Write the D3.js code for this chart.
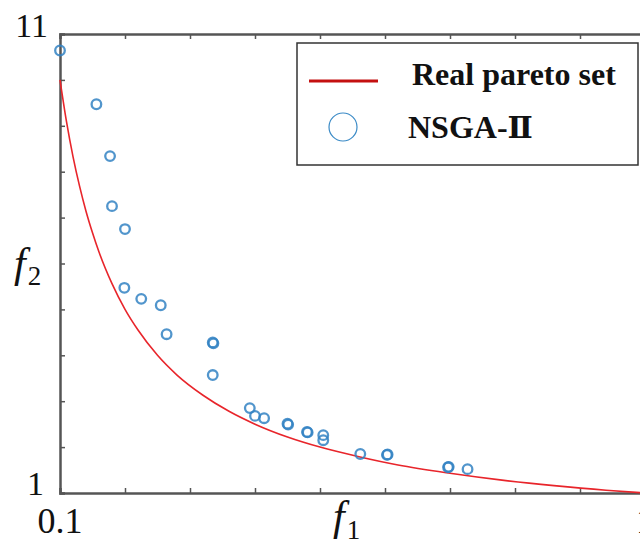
<!DOCTYPE html>
<html>
<head>
<meta charset="utf-8">
<script src="https://cdn.jsdelivr.net/npm/d3@7"></script>
<style>
  body { margin: 0; background: #fff; }
  svg { display: block; }
  text { font-family: "Liberation Serif", "Times New Roman", serif; fill: #111; }
</style>
</head>
<body>
<div id="chart"></div>
<script>
// NSGA-II solutions (f1, f2)
var nsgaF1 = [0.100, 0.156, 0.177, 0.180, 0.200, 0.199, 0.225, 0.255, 0.264, 0.335, 0.336, 0.335,
              0.392, 0.400, 0.414, 0.450, 0.451, 0.480, 0.481, 0.505, 0.505, 0.562, 0.603, 0.604,
              0.697, 0.698, 0.727]
var nsgaF2 = [10.64, 9.47, 8.34, 7.25, 6.75, 5.47, 5.23, 5.09, 4.46, 4.28, 4.26, 3.57,
              2.85, 2.68, 2.63, 2.51, 2.49, 2.33, 2.32, 2.26, 2.15, 1.85, 1.83, 1.84,
              1.56, 1.57, 1.52]
// real pareto front f2 = 1/f1, sampled along f1
var realF1 = [0.10, 0.11, 0.12, 0.13, 0.14, 0.15, 0.16, 0.18, 0.20, 0.22, 0.25, 0.28, 0.32,
              0.36, 0.40, 0.45, 0.50, 0.56, 0.62, 0.70, 0.78, 0.86, 0.94, 1.00]
var realF2 = [10.00, 9.09, 8.33, 7.69, 7.14, 6.67, 6.25, 5.56, 5.00, 4.55, 4.00, 3.57, 3.13,
              2.78, 2.50, 2.22, 2.00, 1.79, 1.61, 1.43, 1.28, 1.16, 1.06, 1.00]
var legendNames = ["Real pareto set", "NSGA-"]
var legendSuffix = ["", "\u2161"]

var width = 640, height = 542
var x0 = 60, x1 = 645, yTop = 34, yBot = 493

var svg = d3.select("#chart").append("svg")
    .attr("width", width)
    .attr("height", height)

var x = d3.scaleLinear().domain([0.1, 1]).range([x0, x1])
var y = d3.scaleLinear().domain([1, 11]).range([yBot, yTop])

var xTicks = d3.range(0.1, 1.001, 0.1)
var yTicks = d3.range(1, 11.001, 1)

// axes: ticks point inward
svg.append("g")
    .attr("transform", "translate(0," + yBot + ")")
    .call(d3.axisTop(x).tickValues(xTicks).tickSize(5).tickFormat(""))
svg.append("g")
    .attr("transform", "translate(0," + yTop + ")")
    .call(d3.axisBottom(x).tickValues(xTicks).tickSize(5).tickFormat(""))
svg.append("g")
    .attr("transform", "translate(" + x0 + ",0)")
    .call(d3.axisRight(y).tickValues(yTicks).tickSize(5).tickFormat(""))

svg.selectAll(".domain").attr("stroke", "#555").attr("stroke-width", 2.5)
svg.selectAll(".tick line").attr("stroke", "#555").attr("stroke-width", 1.5)

// real front
var line = d3.line()
    .x(function(d, i) { return x(realF1[i]) })
    .y(function(d, i) { return y(realF2[i]) })
    .curve(d3.curveMonotoneX)

svg.append("path")
    .datum(realF1)
    .attr("d", line)
    .attr("fill", "none")
    .attr("stroke", "#e8252b")
    .attr("stroke-width", 1.6)

// NSGA-II points
svg.selectAll("circle.pt")
    .data(nsgaF1)
  .enter().append("circle")
    .attr("class", "pt")
    .attr("cx", function(d) { return x(d) })
    .attr("cy", function(d, i) { return y(nsgaF2[i]) })
    .attr("r", 4.8)
    .attr("fill", "none")
    .attr("stroke", "#3283c3")
    .attr("stroke-opacity", 0.85)
    .attr("stroke-width", 2.3)

// tick labels
svg.append("text").attr("x", 48).attr("y", 37).attr("text-anchor", "end")
    .style("font-size", "34px").text("11")
svg.append("text").attr("x", 44).attr("y", 495).attr("text-anchor", "end")
    .style("font-size", "34px").text("1")
svg.append("text").attr("x", x(0.1)).attr("y", 533).attr("text-anchor", "middle")
    .style("font-size", "36px").text("0.1")
svg.append("text").attr("x", x(1)).attr("y", 533).attr("text-anchor", "middle")
    .style("font-size", "36px").text("1")

// axis titles
var t1 = svg.append("text").attr("x", 333).attr("y", 530)
t1.append("tspan").style("font-style", "italic").style("font-size", "42px").text("f")
t1.append("tspan").attr("dy", 9).attr("dx", 2).style("font-size", "27px").text("1")

var t2 = svg.append("text").attr("x", 14).attr("y", 277)
t2.append("tspan").style("font-style", "italic").style("font-size", "42px").text("f")
t2.append("tspan").attr("dy", 8).attr("dx", 2).style("font-size", "27px").text("2")

// legend
var lg = svg.append("g")
lg.append("rect")
    .attr("x", 297).attr("y", 43).attr("width", 341).attr("height", 122)
    .attr("fill", "#fff").attr("stroke", "#333").attr("stroke-width", 1.5)
lg.append("line")
    .attr("x1", 309).attr("x2", 378).attr("y1", 81).attr("y2", 81)
    .attr("stroke", "#c41010").attr("stroke-width", 3)
lg.append("circle")
    .attr("cx", 343).attr("cy", 127).attr("r", 14)
    .attr("fill", "none").attr("stroke", "#3a8ac6").attr("stroke-width", 1.2)
var lt = lg.selectAll("text.lab")
    .data(legendNames)
  .enter().append("text")
    .attr("class", "lab")
    .attr("x", function(d, i) { return i == 0 ? 412 : 408 })
    .attr("y", function(d, i) { return i == 0 ? 85 : 138 })
    .style("font-size", "32px")
    .style("font-weight", "bold")
lt.append("tspan").text(function(d) { return d })
lt.append("tspan")
    .style("font-family", "'DejaVu Serif', serif")
    .style("font-size", "30px")
    .text(function(d, i) { return legendSuffix[i] })
</script>
</body>
</html>
